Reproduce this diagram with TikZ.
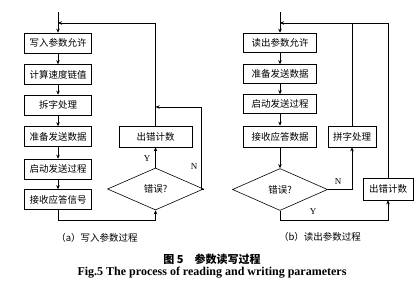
\documentclass[tikz,border=0pt]{standalone}
\usepackage{fontspec}
\setmainfont{Liberation Serif}
\newfontfamily\cjk{Noto Sans CJK SC}
\usetikzlibrary{shapes.geometric,arrows.meta}
\begin{document}
\begin{tikzpicture}[x=1pt,y=-1pt,
  every node/.style={font=\cjk\fontsize{9.5}{10}\selectfont, inner sep=0pt},
  procbox/.style={draw, line width=0.6pt, minimum width=67pt, minimum height=20pt},
  decbox/.style={draw, diamond, aspect=2.3, line width=0.6pt, minimum width=96pt, minimum height=42pt},
  conn/.style={line width=0.6pt},
  arr/.style={conn, -{Stealth[length=4pt,width=3.5pt]}},
  lbl/.style={font=\fontsize{9}{10}\selectfont}
]
\useasboundingbox (0,0) rectangle (419,296);
% ---------- left panel ----------
\node[procbox] (b1) at (58,43) {写入参数允许};
\node[procbox] (b2) at (58,74.5) {计算速度链值};
\node[procbox] (b3) at (58,105) {拆字处理};
\node[procbox] (b4) at (58,136.5) {准备发送数据};
\node[procbox] (b5) at (58,169) {启动发送过程};
\node[procbox] (b6) at (58,199.5) {接收应答信号};
\node[procbox, minimum width=73pt, minimum height=21pt] (e1) at (155.5,136.5) {出错计数};
\node[decbox] (d1) at (155.5,189) {错误?};
\coordinate (t1) at (58,12);
\coordinate (j1) at (58,23);
\coordinate (k1) at (155.5,23);
\coordinate (r1) at (201,107);
\coordinate (r1b) at (201,189);
\coordinate (m1) at (155.5,107);
\coordinate (q1) at (58,220);
\coordinate (q2) at (155.5,220);
\draw[arr] (t1) -- (b1.north);
\draw[arr] (e1.north) -- (k1) -- (j1);
\draw[arr] (b1) -- (b2);
\draw[arr] (b2) -- (b3);
\draw[arr] (b3) -- (b4);
\draw[arr] (b4) -- (b5);
\draw[arr] (b5) -- (b6);
\draw[arr] (d1.north) -- (e1.south);
\draw[arr] (d1.east) -- (r1b) -- (r1) -- (m1);
\draw[arr] (b6.south) -- (q1) -- (q2) -- (d1.south);
\node[lbl] (y1) at (147,159) {Y};
\node[lbl] (n1) at (194,167) {N};
\node (ca) at (97,238) {（a）写入参数过程};
% ---------- right panel ----------
\node[procbox, minimum width=73pt, minimum height=19pt] (c1) at (280,42.5) {读出参数允许};
\node[procbox, minimum width=73pt, minimum height=19pt] (c2) at (280,74) {准备发送数据};
\node[procbox, minimum width=73pt, minimum height=19pt] (c3) at (280,104) {启动发送过程};
\node[procbox, minimum width=73pt, minimum height=21pt] (c4) at (280,136.5) {接收应答数据};
\node[procbox, minimum width=48pt, minimum height=21pt] (p2) at (352,136.5) {拼字处理};
\node[decbox, minimum width=95pt] (d2) at (280,189.5) {错误?};
\node[procbox, minimum width=50pt, minimum height=22pt] (e2) at (388,189) {出错计数};
\coordinate (t2) at (280,12);
\coordinate (j2) at (280,23);
\coordinate (k2) at (388,23);
\coordinate (k3) at (352,23);
\coordinate (s1) at (352,189.5);
\coordinate (s2) at (280,220);
\coordinate (s3) at (388,220);
\draw[arr] (t2) -- (c1.north);
\draw[arr] (e2.north) -- (k2) -- (j2);
\draw[conn] (p2.north) -- (k3);
\draw[arr] (c1) -- (c2);
\draw[arr] (c2) -- (c3);
\draw[arr] (c3) -- (c4);
\draw[arr] (c4) -- (d2);
\draw[arr] (d2.east) -- (s1) -- (p2.south);
\draw[arr] (d2.south) -- (s2) -- (s3) -- (e2.south);
\node[lbl] (n2) at (338,182) {N};
\node[lbl] (y2) at (313,212) {Y};
\node (cb) at (320,237) {（b）读出参数过程};
% ---------- captions ----------
\node[font=\cjk\bfseries\fontsize{11}{12}\selectfont] (cap1) at (212,259) {图 5\quad 参数读写过程};
\node[font=\bfseries\fontsize{12}{13}\selectfont] (cap2) at (212,273) {Fig.5 The process of reading and writing parameters};
\end{tikzpicture}
\end{document}
